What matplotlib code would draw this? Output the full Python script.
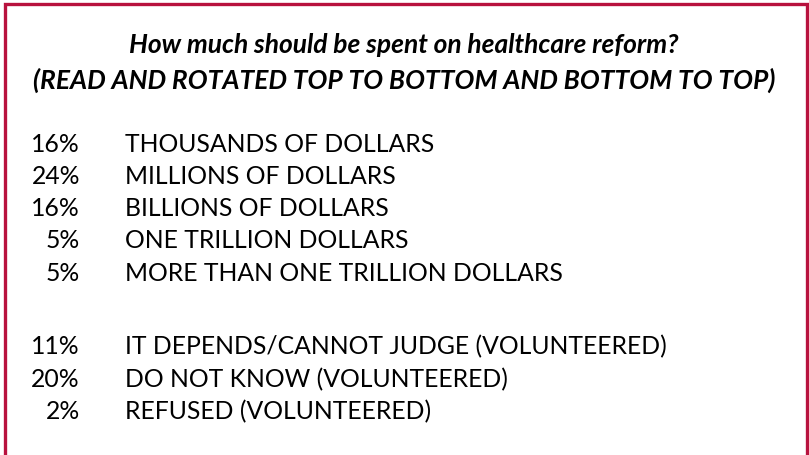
import matplotlib.pyplot as plt

title_lines = [
    "How much should be spent on healthcare reform?",
    "(READ AND ROTATED TOP TO BOTTOM AND BOTTOM TO TOP)",
]
group1_pcts = ["16%", "24%", "16%", "5%", "5%"]
group1_labels = [
    "THOUSANDS OF DOLLARS",
    "MILLIONS OF DOLLARS",
    "BILLIONS OF DOLLARS",
    "ONE TRILLION DOLLARS",
    "MORE THAN ONE TRILLION DOLLARS",
]
group2_pcts = ["11%", "20%", "2%"]
group2_labels = [
    "IT DEPENDS/CANNOT JUDGE (VOLUNTEERED)",
    "DO NOT KNOW (VOLUNTEERED)",
    "REFUSED (VOLUNTEERED)",
]

border = "#B8123E"
font = "Lato"

fig = plt.figure(figsize=(8.09, 4.55), dpi=100)
ax = fig.add_axes([0, 0, 1, 1])
ax.set_xlim(0, 809)
ax.set_ylim(455, 0)
ax.axis("off")

# frame (bottom edge is cut off in the original)
ax.plot([5.5, 5.5, 807, 807], [460, 4, 4, 460], color=border, lw=2.4,
        solid_joinstyle="miter")

for i, line in enumerate(title_lines):
    ax.text(404, 45 + i * 35, line, ha="center", va="center", fontsize=19,
            fontstyle="italic", fontweight="bold", family=font)

def draw_group(pcts, labels, y0):
    for i, (p, lab) in enumerate(zip(pcts, labels)):
        y = y0 + i * 32.3
        ax.text(80, y, p, ha="right", va="center", fontsize=17.8, family=font)
        ax.text(125, y, lab, ha="left", va="center", fontsize=17.8, family=font)

draw_group(group1_pcts, group1_labels, 144)
draw_group(group2_pcts, group2_labels, 347)

fig.savefig("out.png", dpi=100)
